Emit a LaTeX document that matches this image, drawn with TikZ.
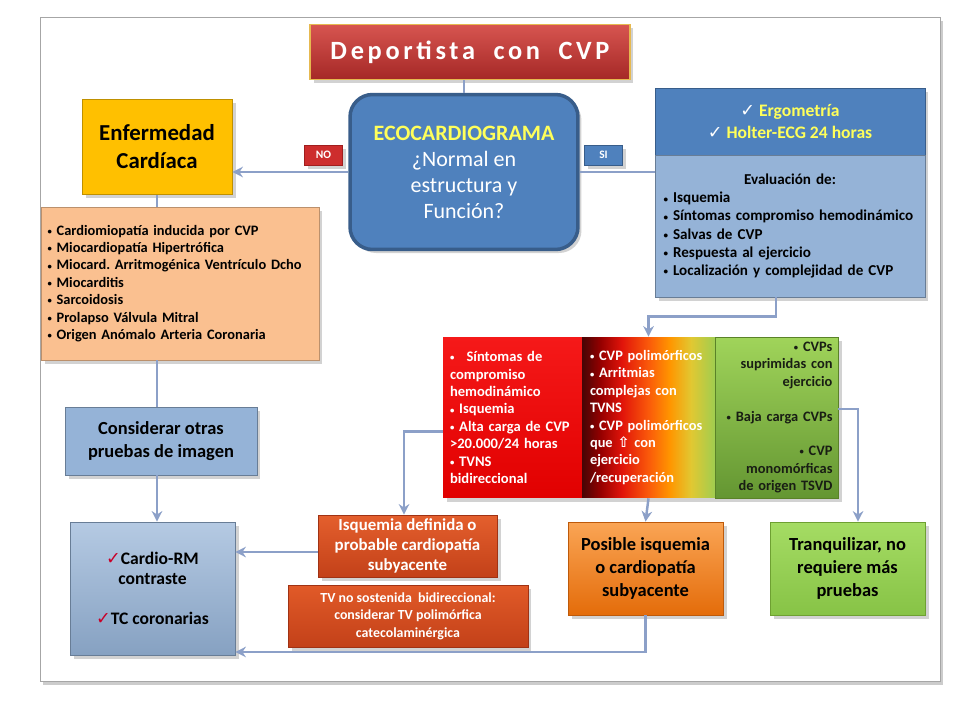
\documentclass[tikz,border=0pt]{standalone}
\usepackage{fontspec}
\setmainfont{Carlito}
\newfontfamily\symfont{DejaVu Sans}
\usetikzlibrary{arrows.meta,shadows}
\frenchspacing
\definecolor{lineblue}{RGB}{140,160,200}
\definecolor{ecoblue}{RGB}{79,129,189}
\definecolor{ecoborder}{RGB}{56,93,138}
\definecolor{paleblue}{RGB}{149,179,215}
\definecolor{gold}{RGB}{255,192,0}
\definecolor{peach}{RGB}{250,192,144}
\definecolor{leaf}{RGB}{146,208,80}
\definecolor{checkyel}{RGB}{255,255,90}
\definecolor{checkred}{RGB}{200,0,40}
\definecolor{gA}{RGB}{70,5,5}
\definecolor{gB}{RGB}{150,0,0}
\definecolor{gC}{RGB}{225,20,10}
\definecolor{gD}{RGB}{250,90,10}
\definecolor{gE}{RGB}{255,150,0}
\definecolor{gF}{RGB}{225,200,50}
\definecolor{gG}{RGB}{160,205,80}
\pgfdeclarehorizontalshading{riskgrad}{100bp}{color(0bp)=(gA); color(25bp)=(gA); color(32bp)=(gB); color(40bp)=(gC); color(50bp)=(gD); color(58bp)=(gE); color(66bp)=(gF); color(75bp)=(gG); color(100bp)=(gG)}
\def\tick{{\symfont\char"2713}}
\def\bul{\raisebox{0.12ex}{\scalebox{0.6}{•}}\ }
\tikzset{
  conn/.style={draw=lineblue, line width=1.4pt},
  arr/.style={conn, -{Stealth[length=6pt,width=6pt]}},
  shadowed/.style={drop shadow={opacity=.35,shadow xshift=2pt,shadow yshift=-2pt}},
  bbox/.style={shadowed, inner sep=0pt, font=\bfseries},
  titlebox/.style={bbox, top color={rgb,255:red,215;green,85;blue,80}, bottom color={rgb,255:red,165;green,40;blue,38},
    draw={rgb,255:red,230;green,185;blue,80}, line width=1pt, text=white,
    minimum width=6.4cm, minimum height=1.1cm, font=\fontsize{15}{18}\selectfont\bfseries},
  tag/.style={bbox, text=white, minimum width=0.76cm, minimum height=0.4cm, font=\fontsize{6.5}{8}\selectfont\bfseries},
  listbox/.style={bbox, align=left, font=\fontsize{7.6}{9.9}\selectfont\bfseries}
}
\begin{document}
\begin{tikzpicture}[x=0.02cm,y=-0.02cm]
\useasboundingbox (0,0) rectangle (960,720);
\fill[white] (0,0) rectangle (960,720);
\path[draw=gray!70, fill=white, drop shadow={opacity=.4,shadow xshift=1.5pt,shadow yshift=-2pt}] (40,17) rectangle (940,681);
% top of the chart
\node[titlebox] (title) at (470,52) {\addfontfeature{LetterSpace=14}Deportista\hspace{0.7em}con\hspace{0.7em}CVP};
\node[shadowed, fill=ecoblue, draw=ecoborder, line width=2pt, rounded corners=0.45cm,
  minimum width=4.56cm, minimum height=3.1cm, align=center, text=white,
  font=\fontsize{12.5}{14.8}\selectfont] (eco) at (464,172)
  {{\bfseries\color{checkyel}ECOCARDIOGRAMA}\\ ¿Normal en\\ estructura y\\ Función?};
\node[tag, fill={rgb,255:red,205;green,45;blue,45}, draw={rgb,255:red,160;green,30;blue,30}] (no) at (323.5,155) {NO};
\node[tag, fill=ecoblue, draw=ecoborder] (si) at (603.5,155) {SI};
% left branch
\node[bbox, fill=gold, draw=gold!75!black, minimum width=3cm, minimum height=1.9cm, align=center,
  font=\fontsize{13}{16}\selectfont\bfseries] (enf) at (157,147) {Enfermedad\\ Cardíaca};
\node[listbox, fill=peach, draw=peach!75!black, minimum width=5.56cm, minimum height=3.06cm,
  text width=5.3cm, font=\fontsize{8.2}{9.9}\selectfont\bfseries] (causas) at (180,283.5)
  {\bul Cardiomiopatía inducida por CVP\\ \bul Miocardiopatía Hipertrófica\\ \bul Miocard. Arritmogénica Ventrículo Dcho\\
   \bul Miocarditis\\ \bul Sarcoidosis\\ \bul Prolapso Válvula Mitral\\ \bul Origen Anómalo Arteria Coronaria};
\node[bbox, fill=paleblue, draw=paleblue!70!black, minimum width=3.84cm, minimum height=1.36cm, align=center,
  font=\fontsize{10.5}{13}\selectfont\bfseries] (otras) at (161,441) {Considerar otras\\ pruebas de imagen};
\node[bbox, top color=paleblue!70!white, bottom color=paleblue!90!black, draw=paleblue!70!black, minimum width=3.3cm, minimum height=2.66cm,
  align=center, font=\fontsize{10}{11.3}\selectfont\bfseries] (imagen) at (152.5,588.5)
  {{\color{checkred}\tick}Cardio-RM\\ contraste\\[11.3pt] {\color{checkred}\tick}TC coronarias};
% right branch
\node[bbox, fill=ecoblue, draw=ecoborder, minimum width=5.4cm, minimum height=1.34cm, align=center,
  text=checkyel, font=\fontsize{10}{13}\selectfont\bfseries] (ergo) at (790,121.5)
  {{\color{white}\tick} Ergometría\\ {\color{white}\tick} Holter-ECG 24 horas};
\node[listbox, fill=paleblue, draw=paleblue!70!black, minimum width=5.4cm, minimum height=2.84cm,
  text width=5.06cm, font=\fontsize{8.6}{10.3}\selectfont\bfseries] (eval) at (790,226)
  {\makebox[5.06cm]{Evaluación de:}\\ \bul Isquemia\\ \bul Síntomas compromiso hemodinámico\\ \bul Salvas de CVP\\
   \bul Respuesta al ejercicio\\ \bul Localización y complejidad de CVP};
\node[listbox, top color={rgb,255:red,245;green,25;blue,25}, bottom color={rgb,255:red,225;green,0;blue,0},
  minimum width=2.78cm, minimum height=3.22cm, text width=2.5cm, text=white,
  font=\fontsize{8.3}{9.9}\selectfont\bfseries] (alto) at (512.5,417.5)
  {\bul\, Síntomas de\\ compromiso\\ hemodinámico\\ \bul Isquemia\\ \bul Alta carga de CVP\\ >20.000/24 horas\\ \bul TVNS\\ bidireccional};
\node[listbox, shading=riskgrad, minimum width=2.66cm, minimum height=3.22cm, text width=2.34cm, text=white,
  font=\fontsize{8.2}{9.9}\selectfont\bfseries] (medio) at (648.5,417.5)
  {\bul CVP polimórficos\\ \bul Arritmias\\ complejas con\\ TVNS\\ \bul CVP polimórficos\\ que {\symfont\char"21E7} con\\ ejercicio\\ /recuperación};
\node[listbox, top color={rgb,255:red,160;green,212;blue,90}, bottom color={rgb,255:red,100;green,150;blue,50},
  draw={rgb,255:red,90;green,130;blue,40}, minimum width=2.46cm, minimum height=3.22cm, text width=2.24cm, align=right,
  text={rgb,255:red,25;green,30;blue,20}, font=\fontsize{8.2}{9.9}\selectfont\bfseries] (bajo) at (776.5,417.5)
  {\bul CVPs\\ suprimidas con\\ ejercicio\\[9.9pt] \bul Baja carga CVPs\\[9.9pt] \bul CVP\\ monomórficas\\ de origen TSVD};
% outcomes
\node[bbox, top color={rgb,255:red,228;green,95;blue,45}, bottom color={rgb,255:red,195;green,65;blue,25},
  draw={rgb,255:red,160;green,50;blue,20}, minimum width=3.58cm, minimum height=1.24cm, align=center, text=white,
  font=\fontsize{9.6}{11.3}\selectfont\bfseries] (isqdef) at (407.5,546)
  {Isquemia definida o\\ probable cardiopatía\\ subyacente};
\node[bbox, top color={rgb,255:red,225;green,90;blue,40}, bottom color={rgb,255:red,195;green,65;blue,25},
  draw={rgb,255:red,160;green,50;blue,20}, minimum width=4.8cm, minimum height=1.24cm, align=center, text=white,
  font=\fontsize{7.9}{9.9}\selectfont\bfseries] (tvpc) at (408,616)
  {TV no sostenida\ \ bidireccional:\\ considerar TV polimórfica\\ catecolaminérgica};
\node[bbox, top color={rgb,255:red,250;green,165;blue,85}, bottom color={rgb,255:red,228;green,108;blue,10},
  draw={rgb,255:red,190;green,90;blue,10}, minimum width=3.1cm, minimum height=1.86cm, align=center,
  font=\fontsize{10.5}{13}\selectfont\bfseries] (posible) at (645.5,568.5)
  {Posible isquemia\\ o cardiopatía\\ subyacente};
\node[bbox, top color={rgb,255:red,165;green,220;blue,100}, bottom color={rgb,255:red,135;green,195;blue,70},
  draw={rgb,255:red,110;green,160;blue,50}, minimum width=3.1cm, minimum height=1.86cm, align=center,
  font=\fontsize{10.5}{13}\selectfont\bfseries] (tranq) at (847.5,568.5)
  {Tranquilizar, no\\ requiere más\\ pruebas};
% connectors
\draw[conn] (title.south -| eco.north) -- (eco.north);
\draw[arr] (eco.west) -- (eco.west -| enf.east);
\draw[conn] (eco.east) -- (eco.east -| eval.west);
\draw[conn] (enf.south) -- (enf.south |- causas.north);
\draw[conn] (causas.south -| enf.south) -- (otras.north -| enf.south);
\draw[arr] (otras.south -| enf.south) -- (imagen.north -| enf.south);
\draw[arr] ([xshift=-0.28cm]eval.south) -- ++(0,19) -| (medio.north);
\draw[arr] ([yshift=-0.28cm]alto.west) -| ([xshift=-0.07cm]isqdef.north);
\draw[arr] ([yshift=-0.12cm]isqdef.west) -- ([yshift=-0.12cm]isqdef.west -| imagen.east);
\draw[arr] (medio.south) -- (posible.north);
\draw[arr] (posible.south) |- ([yshift=-1.27cm]imagen.east);
\draw[arr] ([yshift=0.17cm]bajo.east) -| ([xshift=0.21cm]tranq.north);
\end{tikzpicture}
\end{document}
